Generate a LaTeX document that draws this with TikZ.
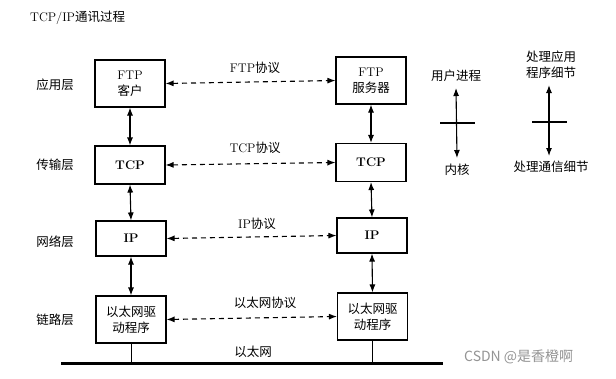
\documentclass[tikz,border=0pt]{standalone}
\usepackage{fontspec}
\newfontfamily\cjk{Noto Sans CJK SC}
\usetikzlibrary{arrows.meta}
\begin{document}
\begin{tikzpicture}[x=1pt,y=-1pt,
  box/.style={draw, line width=1.1pt, minimum width=70pt, align=center, inner sep=1pt, font=\fontsize{12.5}{16}\selectfont},
  lbl/.style={font=\cjk\fontsize{12.5}{16}\selectfont, inner sep=1pt, align=center},
  mix/.style={font=\fontsize{12.5}{16}\selectfont, inner sep=1pt, align=center},
  vv/.style={{Latex[length=8pt,width=6pt]}-{Latex[length=8pt,width=6pt]}, line width=1.1pt},
  dd/.style={{Latex[length=8pt,width=6pt]}-{Latex[length=8pt,width=6pt]}, line width=1.1pt, dash pattern=on 5pt off 4pt},
  tick/.style={line width=1.1pt}]
\useasboundingbox (0,0) rectangle (616,378);
\fill[white] (0,0) rectangle (616,378);
% title
\node[anchor=west, inner sep=0pt, font=\fontsize{12.5}{15}\selectfont] (title) at (30,18) {TCP/IP{\cjk 通讯过程}};
% layer labels
\node[lbl] (l1) at (55,85) {应用层};
\node[lbl] (l2) at (55,165) {传输层};
\node[lbl] (l3) at (55,242) {网络层};
\node[lbl] (l4) at (55,320) {链路层};
% left boxes
\node[box, minimum height=47pt] (lftp) at (130,83.5) {FTP\\{\cjk 客户}};
\node[box, minimum height=38pt] (ltcp) at (130,165) {\textbf{TCP}};
\node[box, minimum height=35pt] (lip) at (131,238.5) {\textbf{IP}};
\node[box, minimum height=47pt] (leth) at (131,319.5) {\cjk 以太网驱\\\cjk 动程序};
% right boxes
\node[box, minimum height=47pt] (rftp) at (371,80.5) {FTP\\{\cjk 服务器}};
\node[box, minimum height=38pt] (rtcp) at (371,162.5) {\textbf{TCP}};
\node[box, minimum height=35pt] (rip) at (372,235.5) {\textbf{IP}};
\node[box, minimum height=47pt] (reth) at (372.5,316.5) {\cjk 以太网驱\\\cjk 动程序};
% vertical arrows
\draw[vv] (lftp.south) -- (ltcp.north);
\draw[vv] (ltcp.south) -- (lip.north);
\draw[vv] (lip.south) -- (leth.north);
\draw[vv] (rftp.south) -- (rtcp.north);
\draw[vv] (rtcp.south) -- (rip.north);
\draw[vv] (rip.south) -- (reth.north);
% dashed protocol arrows
\draw[dd] (lftp.east) -- (rftp.west);
\draw[dd] (ltcp.east) -- (rtcp.west);
\draw[dd] (lip.east) -- (rip.west);
\draw[dd] (leth.east) -- (reth.west);
\node[mix] (p1) at (255,68) {FTP{\cjk 协议}};
\node[mix] (p2) at (255,148) {TCP{\cjk 协议}};
\node[mix] (p3) at (257,224) {IP{\cjk 协议}};
\node[lbl] (p4) at (265,303) {以太网协议};
\node[lbl] (p5) at (253,352) {以太网};
% ethernet bus
\coordinate (busL) at (61,363);
\coordinate (busR) at (443,363);
\draw[line width=3pt] (busL) -- (busR);
\draw[line width=0.9pt] (leth.south) -- (leth.south |- busL);
\draw[line width=0.9pt] (reth.south) -- (reth.south |- busL);
% legend 1
\node[lbl] (u1) at (456,76) {用户进程};
\node[lbl] (k1) at (457,170) {内核};
\coordinate (t1) at (457,123);
\draw[vv] ([yshift=-5pt]u1.south) -- ([yshift=5pt]k1.north);
\draw[tick] ([xshift=-17pt]t1) -- ([xshift=18pt]t1);
% legend 2
\node[lbl] (u2) at (551,65) {处理应用\\程序细节};
\node[lbl] (k2) at (551,167) {处理通信细节};
\coordinate (t2) at (549,122);
\draw[vv] (u2.south -| t2) ++(0,5) -- ([yshift=4pt]k2.north -| t2);
\draw[tick] ([xshift=-17pt]t2) -- ([xshift=18pt]t2);
% watermark
\node[font=\cjk\fontsize{14}{16}\selectfont, text=black!42, anchor=west, inner sep=0pt] (wm) at (464,357) {CSDN @是香橙啊};
\end{tikzpicture}
\end{document}
